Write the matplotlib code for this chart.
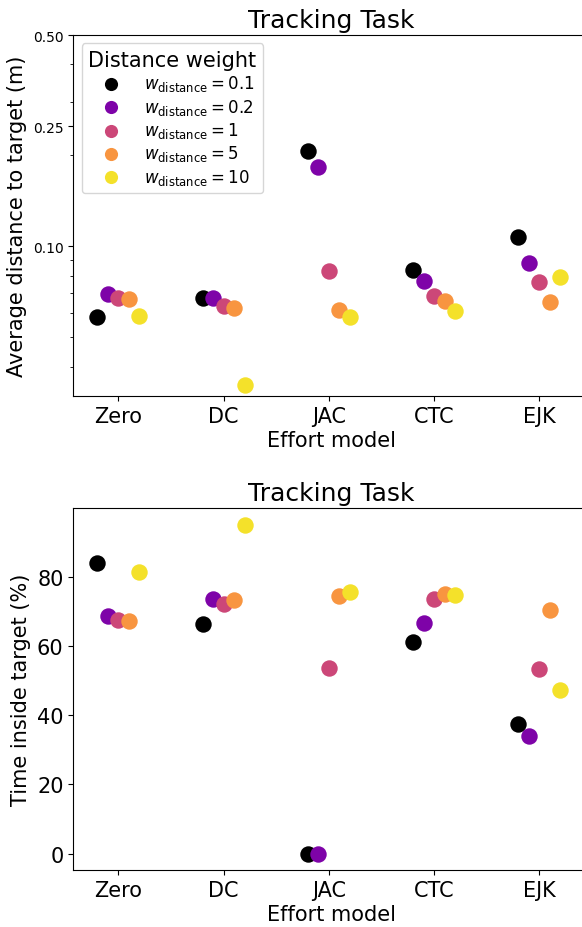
import matplotlib
matplotlib.use("Agg")
import matplotlib.pyplot as plt
from matplotlib.ticker import FixedLocator, NullFormatter
import numpy as np

# effort models on the x axis, distance weights as separate series
models = ["Zero", "DC", "JAC", "CTC", "EJK"]
weights = ["0.1", "0.2", "1", "5", "10"]
colors = ["#000000", "#7e03a8", "#cc4778", "#f89540", "#f4e12a"]

# average distance to target (m), one list per weight, ordered like models
dist_w01 = [0.0582, 0.0674, 0.206, 0.0833, 0.107]
dist_w02 = [0.0697, 0.0676, 0.183, 0.0766, 0.0878]
dist_w1 = [0.0673, 0.0636, 0.0827, 0.0686, 0.0760]
dist_w5 = [0.0671, 0.0625, 0.0618, 0.0658, 0.0656]
dist_w10 = [0.0589, 0.0347, 0.0582, 0.0610, 0.0791]

# time inside target (%)
time_w01 = [83.8, 66.2, 0.0, 61.1, 37.4]
time_w02 = [68.7, 73.5, 0.0, 66.7, 33.9]
time_w1 = [67.5, 72.1, 53.5, 73.5, 53.4]
time_w5 = [67.1, 73.2, 74.3, 75.0, 70.3]
time_w10 = [81.3, 95.0, 75.4, 74.6, 47.3]

dist_data = [dist_w01, dist_w02, dist_w1, dist_w5, dist_w10]
time_data = [time_w01, time_w02, time_w1, time_w5, time_w10]

fig = plt.figure(figsize=(5.82, 9.28), dpi=100)
ax1 = fig.add_axes([0.126, 0.5722, 0.886, 0.389])
ax2 = fig.add_axes([0.126, 0.0614, 0.886, 0.390])

x = np.arange(len(models))
offsets = np.linspace(-0.2, 0.2, len(weights))

for ax, data in [(ax1, dist_data), (ax2, time_data)]:
    for i, (vals, c) in enumerate(zip(data, colors)):
        ax.scatter(x + offsets[i], vals, s=140, color=c, linewidths=0,
                   label=r"$w_{\mathrm{distance}} = %s$" % weights[i], zorder=3)
    ax.set_xticks(x)
    ax.set_xticklabels(models, fontsize=15)
    ax.set_xlim(-0.428, 4.472)
    ax.set_xlabel("Effort model", fontsize=15, labelpad=3)
    ax.set_title("Tracking Task", fontsize=18, pad=6)

# top: log scale distance
ax1.set_yscale("log")
ax1.set_ylim(0.032, 0.5)
ax1.yaxis.set_major_locator(FixedLocator([0.1, 0.25, 0.5]))
ax1.set_yticklabels(["0.10", "0.25", "0.50"], fontsize=10)
ax1.yaxis.set_minor_formatter(NullFormatter())
ax1.set_ylabel("Average distance to target (m)", fontsize=15)
leg = ax1.legend(title="Distance weight", loc="upper left", fontsize=12,
                 title_fontsize=15, markerscale=0.8, handlelength=2.6,
                 handletextpad=0.7, labelspacing=0.2, borderaxespad=0.5)

# bottom: percentage inside target
ax2.set_yticks([0, 20, 40, 60, 80])
ax2.tick_params(axis="y", labelsize=15)
ax2.set_ylabel("Time inside target (%)", fontsize=15)

fig.savefig("out.png", dpi=100)
